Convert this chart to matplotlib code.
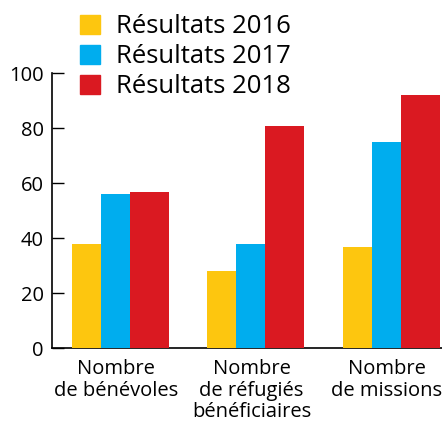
import numpy as np
import matplotlib
matplotlib.use('Agg')
import matplotlib.pyplot as plt
import matplotlib.patches as mpatches

plt.rcParams['font.family'] = ['Open Sans', 'DejaVu Sans']

# ── Data ─────────────────────────────────────────────────────────
categories = ['Nombre\nde bénévoles', 'Nombre\nde réfugiés\nbénéficiaires', 'Nombre\nde missions']
series = ['Résultats 2016', 'Résultats 2017', 'Résultats 2018']
res_2016 = [38, 28, 37]
res_2017 = [56, 38, 75]
res_2018 = [57, 81, 92]
yticks = [0, 20, 40, 60, 80, 100]

COLORS = ['#FDC60F', '#00ADEE', '#DA1921']

# ── Figure ───────────────────────────────────────────────────────
fig = plt.figure(figsize=(4.42, 4.21), dpi=100)
ax = fig.add_axes([52 / 442, 72.7 / 421, 1 - 52 / 442, 275 / 421])

x = np.arange(len(categories))
# bar lefts/widths relative to group position (yellow/blue narrow, red wider)
lefts = [-0.325, -0.111, 0.103]
widths = [0.214, 0.214, 0.288]
for vals, col, off, w in zip([res_2016, res_2017, res_2018], COLORS, lefts, widths):
    ax.bar(x + off, vals, width=w, align='edge', color=col, linewidth=0, zorder=3)

ax.set_xlim(-0.472, 2.406)
ax.set_ylim(0, 100)
ax.set_yticks(yticks)
ax.set_xticks(x)
ax.set_xticklabels(categories, fontsize=14.5, linespacing=1.08)
ax.tick_params(axis='x', length=0, pad=8)
ax.tick_params(axis='y', direction='in', length=8.5, width=1, labelsize=14.5, pad=6)
for side in ['top', 'right']:
    ax.spines[side].set_visible(False)
for side in ['left', 'bottom']:
    ax.spines[side].set_linewidth(1.2)

handles = [mpatches.Patch(color=c, label=s) for c, s in zip(COLORS, series)]
fig.legend(handles=handles, loc='upper left', bbox_to_anchor=(75 / 442, 1 - 9 / 421),
           frameon=False, fontsize=18.5, handlelength=0.78, handleheight=0.78,
           handletextpad=0.6, labelspacing=0.2, borderaxespad=0, borderpad=0.2)

fig.savefig('out.png', dpi=100)
